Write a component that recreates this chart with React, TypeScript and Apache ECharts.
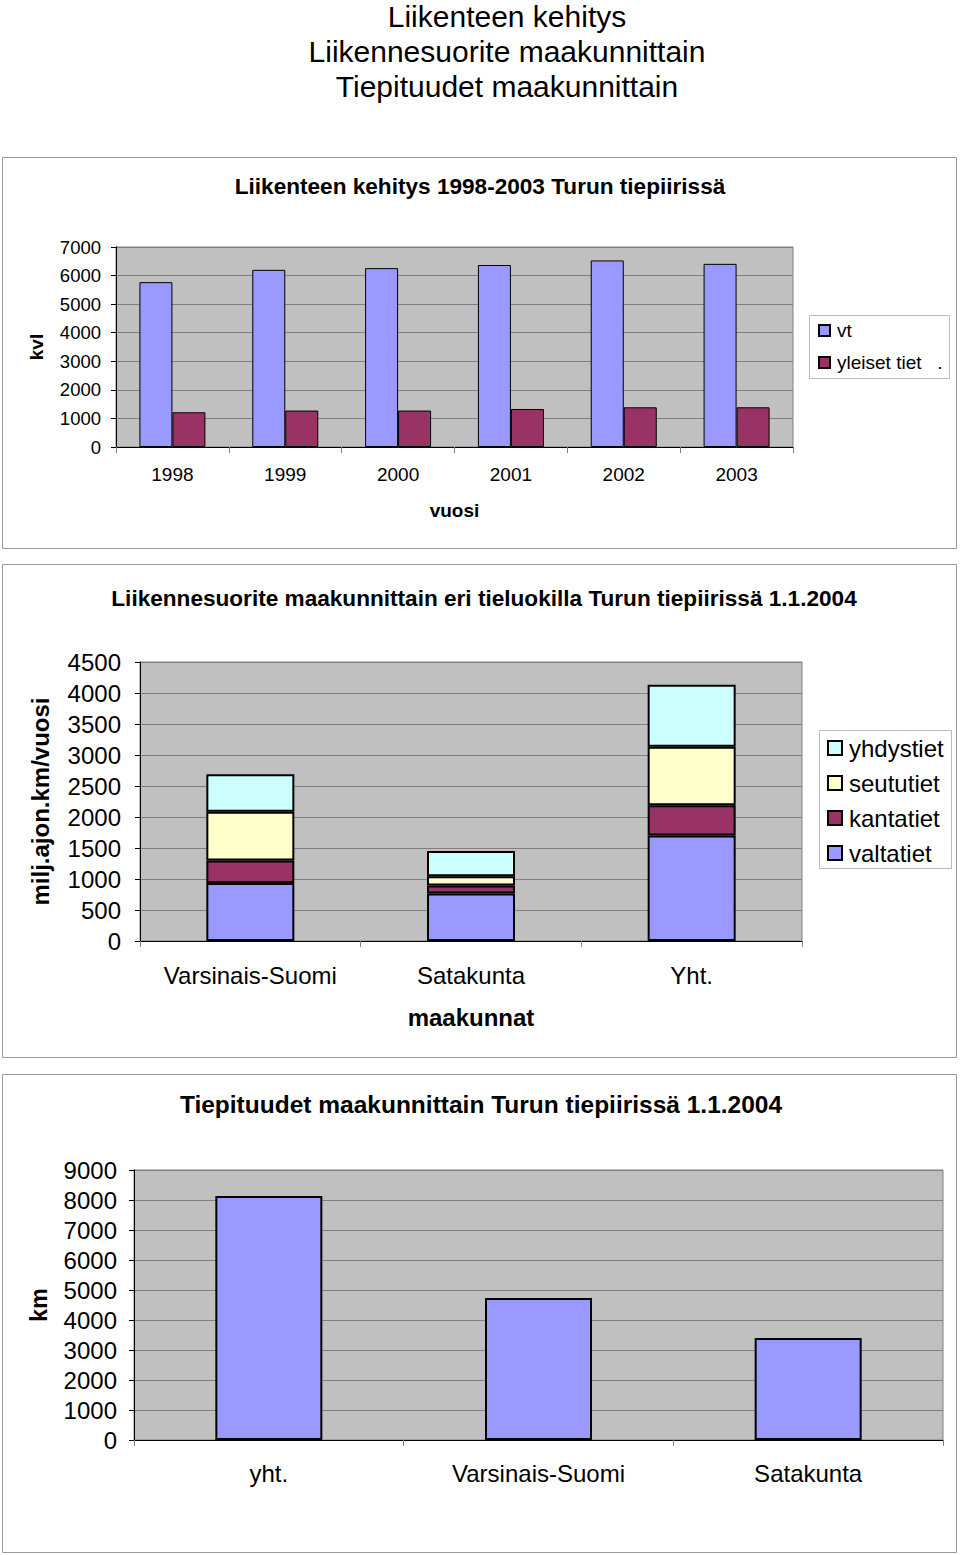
import React, { useEffect, useRef } from "react";
import * as echarts from "echarts";

const FONT = "Liberation Sans";

// Chart 1
const years = ["1998", "1999", "2000", "2001", "2002", "2003"];
const vtValues = [5770, 6200, 6260, 6370, 6530, 6410];
const yleisetValues = [1215, 1275, 1275, 1330, 1390, 1390];

// Chart 2
const regions2 = ["Varsinais-Suomi", "Satakunta", "Yht."];
const valtatiet = [935, 765, 1700];
const kantatiet = [365, 130, 490];
const seututiet = [785, 150, 945];
const yhdystiet = [605, 405, 1000];

// Chart 3
const regions3 = ["yht.", "Varsinais-Suomi", "Satakunta"];
const lengths = [8130, 4730, 3400];

const mainTitles = ["Liikenteen kehitys", "Liikennesuorite maakunnittain", "Tiepituudet maakunnittain"];

export default function App() {
  const ref = useRef<HTMLDivElement>(null);
  useEffect(() => {
    if (!ref.current) return;
    const chart = echarts.init(ref.current, undefined, { renderer: "svg" });
    const gridCommon = { show: true, backgroundColor: "#C0C0C0", borderColor: "#808080", borderWidth: 1 };
    const yCommon = (fs: number, margin: number) => ({
      type: "value" as const,
      axisLine: { show: true, lineStyle: { color: "#000", width: 1 } },
      axisTick: { show: true, length: 5, lineStyle: { color: "#000" } },
      axisLabel: { color: "#000", fontSize: fs, fontFamily: FONT, margin, formatter: (v: number) => String(v) },
      splitLine: { show: true, lineStyle: { color: "#808080", width: 1 } },
      nameLocation: "middle" as const,
      nameRotate: 90,
      nameTextStyle: { color: "#000", fontFamily: FONT, fontWeight: "bold" as const },
    });
    const xCommon = (fs: number, margin: number) => ({
      type: "category" as const,
      axisLine: { show: true, lineStyle: { color: "#000", width: 1 } },
      axisTick: { show: true, length: 6, alignWithLabel: false, lineStyle: { color: "#808080" } },
      axisLabel: { color: "#000", fontSize: fs, fontFamily: FONT, margin, interval: 0 },
      nameLocation: "middle" as const,
      nameTextStyle: { color: "#000", fontFamily: FONT, fontWeight: "bold" as const },
    });
    const titleText = (text: string, x: number, y: number, fs: number, bold: boolean) => ({
      type: "text",
      x,
      y,
      style: {
        text,
        fill: "#000",
        font: `${bold ? "bold " : ""}${fs}px "${FONT}"`,
        textAlign: "center",
        textVerticalAlign: "middle",
      },
    });
    const box = (x: number, y: number, w: number, h: number, stroke: string) => ({
      type: "rect",
      z: -10,
      shape: { x, y, width: w, height: h },
      style: { fill: "transparent", stroke, lineWidth: 1 },
    });
    chart.setOption({
      animation: false,
      backgroundColor: "#fff",
      textStyle: { fontFamily: FONT },
      graphic: [
        ...mainTitles.map((t, i) => titleText(t, 507, 16 + i * 35, 30, false)),
        box(2.5, 157.5, 954, 391, "#999"),
        box(2.5, 564.5, 954, 493, "#999"),
        box(2.5, 1074.5, 954, 478, "#999"),
        box(809.5, 315.5, 140, 63, "#bbb"),
        box(819.5, 730.5, 132, 138, "#bbb"),
        titleText("Liikenteen kehitys 1998-2003 Turun tiepiirissä", 480, 186, 22.6, true),
        titleText("Liikennesuorite maakunnittain eri tieluokilla Turun tiepiirissä 1.1.2004", 484, 598, 22.6, true),
        titleText("Tiepituudet maakunnittain Turun tiepiirissä 1.1.2004", 481, 1104, 24.5, true),
      ],
      grid: [
        { ...gridCommon, left: 116, top: 247, width: 677, height: 200 },
        { ...gridCommon, left: 140, top: 662, width: 662, height: 279 },
        { ...gridCommon, left: 134, top: 1170, width: 809, height: 270 },
      ],
      xAxis: [
        { ...xCommon(19, 18), gridIndex: 0, data: years, name: "vuosi", nameGap: 54, nameTextStyle: { ...xCommon(19, 18).nameTextStyle, fontSize: 19 } },
        { ...xCommon(24, 22), gridIndex: 1, data: regions2, name: "maakunnat", nameGap: 64, nameTextStyle: { ...xCommon(24, 22).nameTextStyle, fontSize: 24 } },
        { ...xCommon(24, 21), gridIndex: 2, data: regions3 },
      ],
      yAxis: [
        { ...yCommon(18.5, 15), gridIndex: 0, min: 0, max: 7000, interval: 1000, name: "kvl", nameGap: 70, nameTextStyle: { ...yCommon(18, 15).nameTextStyle, fontSize: 19 } },
        { ...yCommon(24, 19), gridIndex: 1, min: 0, max: 4500, interval: 500, name: "milj.ajon.km/vuosi", nameGap: 88, nameTextStyle: { ...yCommon(24, 19).nameTextStyle, fontSize: 24 } },
        { ...yCommon(24, 17), gridIndex: 2, min: 0, max: 9000, interval: 1000, name: "km", nameGap: 84, nameTextStyle: { ...yCommon(24, 17).nameTextStyle, fontSize: 23 } },
      ],
      legend: [
        {
          orient: "vertical",
          left: 818,
          top: 321,
          padding: 0,
          itemWidth: 11,
          itemHeight: 11,
          itemGap: 13,
          icon: "rect",
          textStyle: { color: "#000", fontSize: 19, fontFamily: FONT, lineHeight: 19, padding: [0, 0, 0, 2] },
          data: ["vt", "yleiset tiet   ."],
        },
        {
          orient: "vertical",
          left: 827,
          top: 736,
          padding: 0,
          itemWidth: 14,
          itemHeight: 14,
          itemGap: 11,
          icon: "rect",
          textStyle: { color: "#000", fontSize: 24, fontFamily: FONT, lineHeight: 24, padding: [0, 0, 0, 2] },
          data: ["yhdystiet", "seututiet", "kantatiet", "valtatiet"],
        },
      ],
      series: [
        {
          name: "vt",
          type: "bar",
          xAxisIndex: 0,
          yAxisIndex: 0,
          data: vtValues,
          barWidth: 33,
          barGap: "0%",
          itemStyle: { color: "#9999FF", borderColor: "#000", borderWidth: 1 },
        },
        {
          name: "yleiset tiet   .",
          type: "bar",
          xAxisIndex: 0,
          yAxisIndex: 0,
          data: yleisetValues,
          barWidth: 33,
          barGap: "0%",
          itemStyle: { color: "#993366", borderColor: "#000", borderWidth: 1 },
        },
        ...[
          { name: "valtatiet", data: valtatiet, color: "#9999FF" },
          { name: "kantatiet", data: kantatiet, color: "#993366" },
          { name: "seututiet", data: seututiet, color: "#FFFFCC" },
          { name: "yhdystiet", data: yhdystiet, color: "#CCFFFF" },
        ].map((s) => ({
          name: s.name,
          type: "bar",
          stack: "tie",
          xAxisIndex: 1,
          yAxisIndex: 1,
          data: s.data,
          barWidth: 88,
          itemStyle: { color: s.color, borderColor: "#000", borderWidth: 2 },
        })),
        {
          name: "pituus",
          type: "bar",
          xAxisIndex: 2,
          yAxisIndex: 2,
          data: lengths,
          barWidth: 107,
          itemStyle: { color: "#9999FF", borderColor: "#000", borderWidth: 2 },
        },
      ],
    });
    return () => chart.dispose();
  }, []);
  return <div ref={ref} style={{ position: "absolute", left: 0, top: 0, width: 960, height: 1555 }} />;
}
